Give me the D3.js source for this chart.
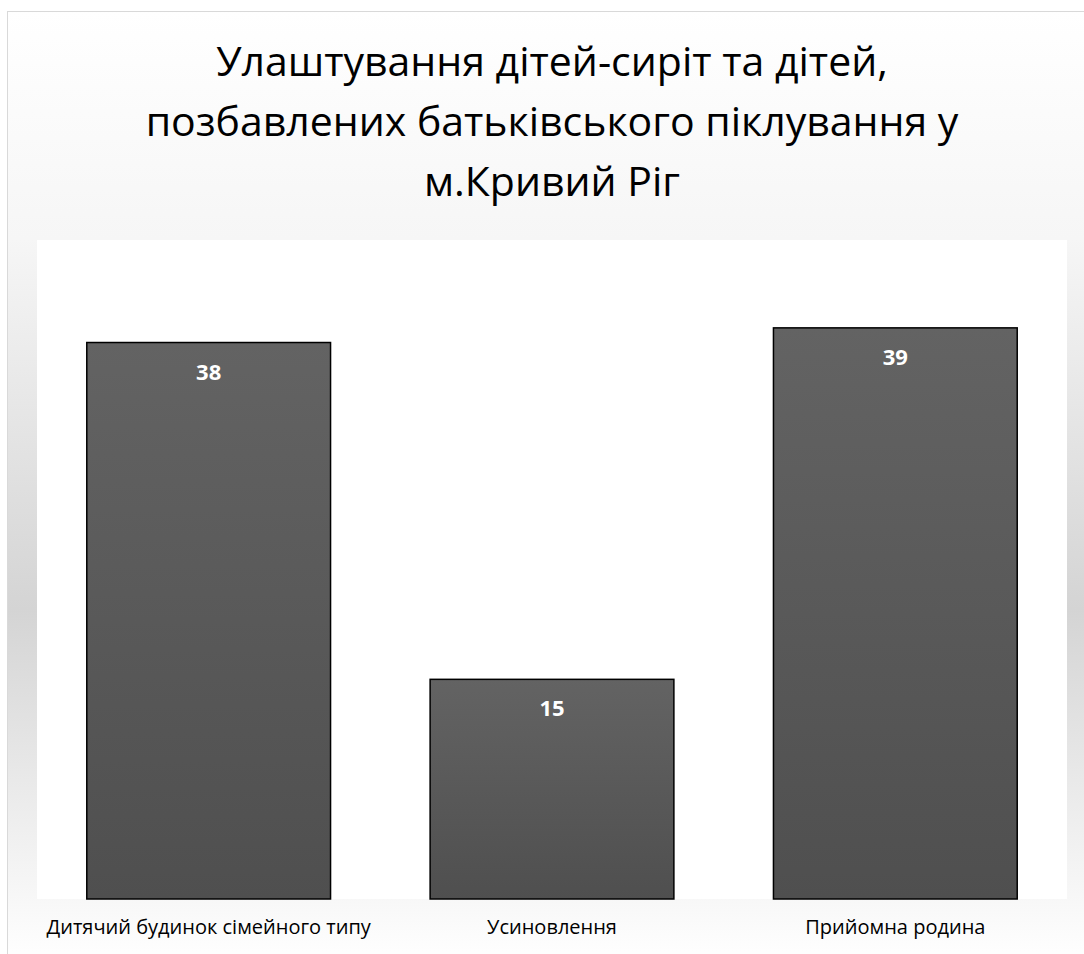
<!DOCTYPE html>
<html lang="uk">
<head>
<meta charset="UTF-8">
<title>Улаштування дітей-сиріт</title>
<script src="https://d3js.org/d3.v7.min.js"></script>
<style>
    body { margin: 0; background: #fff; }
    svg { display: block; }
    text { font-family: "Open Sans", "Noto Sans", sans-serif; }
</style>
</head>
<body>
<svg id="chart" width="1084" height="954"></svg>
<script>
// data
const categories = ["Дитячий будинок сімейного типу", "Усиновлення", "Прийомна родина"];
const values = [38, 15, 39];
const titleLines = ["Улаштування дітей-сиріт та дітей,", "позбавлених батьківського піклування у", "м.Кривий Ріг"];

const W = 1084, H = 954;
const svg = d3.select("#chart");
const defs = svg.append("defs");

// chart background: vertical grey gradient
const bg = defs.append("linearGradient")
    .attr("id", "bgGrad")
    .attr("gradientUnits", "userSpaceOnUse")
    .attr("x1", 0).attr("y1", 11).attr("x2", 0).attr("y2", 960);
bg.append("stop").attr("offset", "0%").attr("stop-color", "#ffffff");
bg.append("stop").attr("offset", "24%").attr("stop-color", "#f6f6f6");
bg.append("stop").attr("offset", "63%").attr("stop-color", "#d4d4d4");
bg.append("stop").attr("offset", "100%").attr("stop-color", "#ffffff");

// bar fill gradient
const barGrad = defs.append("linearGradient")
    .attr("id", "barGrad")
    .attr("x1", 0).attr("y1", 0).attr("x2", 0).attr("y2", 1);
barGrad.append("stop").attr("offset", "0%").attr("stop-color", "#636363");
barGrad.append("stop").attr("offset", "100%").attr("stop-color", "#4f4f4f");

svg.append("rect")
    .attr("x", 7.5).attr("y", 11.5)
    .attr("width", W + 10).attr("height", H)
    .attr("fill", "url(#bgGrad)")
    .attr("stroke", "#d9d9d9")
    .attr("stroke-width", 1);

// plot area
const plot = { left: 37, right: 1067, top: 240, bottom: 899 };

svg.append("rect")
    .attr("x", plot.left).attr("y", plot.top)
    .attr("width", plot.right - plot.left)
    .attr("height", plot.bottom - plot.top)
    .attr("fill", "#ffffff");

const x = d3.scaleBand()
    .domain(categories)
    .range([plot.left, plot.right])
    .paddingInner(0.29)
    .paddingOuter(0.145);

const y = d3.scaleLinear()
    .domain([0, 45])
    .range([plot.bottom, plot.top]);

// title
svg.append("g")
    .selectAll("text")
    .data(titleLines)
    .join("text")
    .attr("x", 552)
    .attr("y", (d, i) => 76 + i * 60)
    .attr("text-anchor", "middle")
    .attr("font-size", 41)
    .attr("fill", "#000")
    .text(d => d);

// bars
svg.append("g")
    .selectAll("rect")
    .data(values)
    .join("rect")
    .attr("x", (d, i) => x(categories[i]))
    .attr("y", d => y(d))
    .attr("width", x.bandwidth())
    .attr("height", d => y(0) - y(d))
    .attr("fill", "url(#barGrad)")
    .attr("stroke", "#000")
    .attr("stroke-width", 1.5);

// value labels
svg.append("g")
    .selectAll("text")
    .data(values)
    .join("text")
    .attr("x", (d, i) => x(categories[i]) + x.bandwidth() / 2)
    .attr("y", d => y(d) + 37)
    .attr("text-anchor", "middle")
    .attr("font-size", 22)
    .attr("font-weight", "bold")
    .attr("fill", "#ffffff")
    .text(d => d);

// category axis labels
const xAxis = d3.axisBottom(x).tickSize(0).tickPadding(0);
const axisG = svg.append("g")
    .attr("transform", `translate(0,${plot.bottom})`)
    .call(xAxis);
axisG.select(".domain").remove();
axisG.selectAll("text")
    .attr("dy", 0)
    .attr("y", 35)
    .attr("font-size", 20)
    .attr("font-family", "'Open Sans', sans-serif")
    .attr("fill", "#000");
</script>
</body>
</html>
